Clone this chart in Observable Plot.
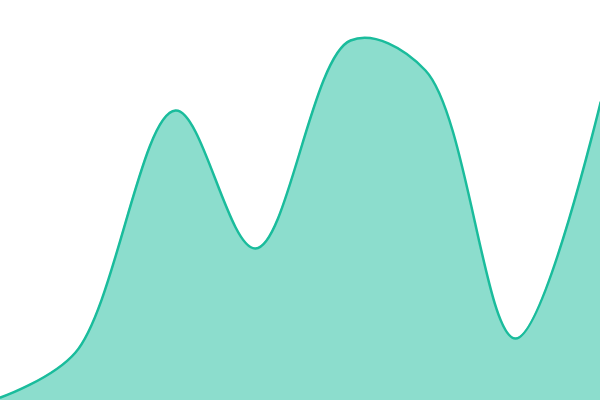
<!DOCTYPE html>
<html>
<head>
<meta charset="utf-8">
<script src="https://cdn.jsdelivr.net/npm/d3@7"></script>
<script src="https://cdn.jsdelivr.net/npm/@observablehq/plot@0.6"></script>
<style>
  html, body { margin: 0; padding: 0; background: #fff; }
  #chart svg { display: block; }
</style>
</head>
<body>
<div id="chart"></div>
<script>
const xs = [0, 75, 175, 255, 350, 425, 515, 600];
const ys = [3, 48, 290, 152, 360, 330, 62, 298];
const data = xs.map((x, i) => ({x, y: ys[i]}));

const chart = Plot.plot({
  width: 600,
  height: 400,
  margin: 0,
  x: {domain: [0, 600], axis: null},
  y: {domain: [0, 400], axis: null},
  marks: [
    Plot.areaY(data, {x: "x", y: "y", curve: "catmull-rom", fill: "#1abc9c", fillOpacity: 0.5}),
    Plot.lineY(data, {x: "x", y: "y", curve: "catmull-rom", stroke: "#1abc9c", strokeWidth: 2.5})
  ]
});
document.getElementById("chart").appendChild(chart);
</script>
</body>
</html>
